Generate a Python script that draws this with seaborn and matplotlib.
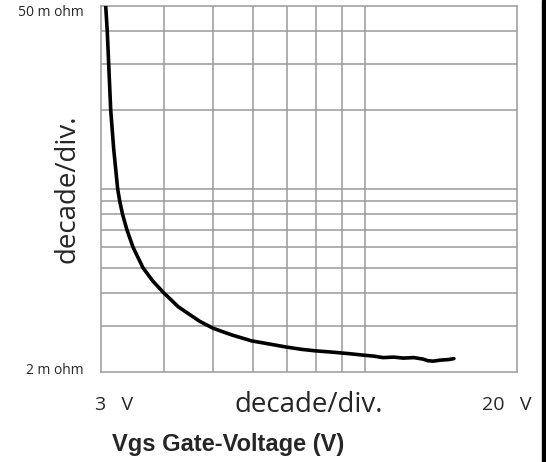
import pandas as pd
import matplotlib.pyplot as plt
import seaborn as sns
from matplotlib.patches import Rectangle

# Rds(on) vs gate voltage
vgs = [3.065, 3.087, 3.107, 3.136, 3.178, 3.237, 3.267, 3.31, 3.375, 3.471,
       3.633, 3.80, 4.0, 4.267, 4.48, 4.71, 5.0, 5.20, 5.45, 5.96, 6.45,
       6.99, 7.5, 7.96, 8.65, 9.3, 9.91, 10.4, 10.86, 11.4, 11.9, 12.5,
       13.03, 13.3, 13.64, 14.1, 14.6, 15.0]
rds = [50.0, 40.0, 30.0, 20.0, 14.3, 10.0, 9.0, 8.0, 7.0, 6.0,
       5.0, 4.45, 4.0, 3.55, 3.33, 3.12, 2.94, 2.86, 2.77, 2.63, 2.56,
       2.49, 2.44, 2.41, 2.38, 2.35, 2.32, 2.30, 2.27, 2.28, 2.26, 2.27,
       2.24, 2.21, 2.20, 2.22, 2.23, 2.25]

x_grid = [4, 5, 6, 7, 8, 9, 10]
y_grid = [3, 4, 5, 6, 7, 8, 9, 10, 20, 30, 40]

df = pd.DataFrame({'vgs': vgs, 'rds': rds})

sns.set_style('white')
plt.rcParams['font.family'] = ['Open Sans', 'DejaVu Sans']

fig = plt.figure(figsize=(5.46, 4.62), dpi=100)
ax = fig.add_axes([101/546, 1-372/462, 416/546, 366/462])

ax.set_xscale('log')
ax.set_yscale('log')
ax.set_xlim(3, 20)
ax.set_ylim(2, 50)

for xv in x_grid:
    ax.axvline(xv, color='#9a9a9a', lw=1.1, zorder=1)
for yv in y_grid:
    ax.axhline(yv, color='#9a9a9a', lw=1.1, zorder=1)

sns.lineplot(data=df, x='vgs', y='rds', color='black', lw=2.6, ax=ax, zorder=3)

ax.set_xticks([])
ax.set_yticks([])
ax.minorticks_off()
ax.tick_params(which='both', length=0, labelleft=False, labelbottom=False)
ax.set_xlabel('')
ax.set_ylabel('')
for s in ax.spines.values():
    s.set_color('#9a9a9a')
    s.set_linewidth(1.1)

def px(x, y):
    return x/546, 1-y/462

fig.text(*px(84, 12), '50 m ohm', fontsize=10, ha='right', va='center')
fig.text(*px(84, 370), '2 m ohm', fontsize=10, ha='right', va='center')
fig.text(*px(67, 189), 'decade/div.', fontsize=20, rotation=90, ha='center', va='center')
fig.text(*px(114, 405), '3   V', fontsize=14, ha='center', va='center')
fig.text(*px(309, 405), 'decade/div.', fontsize=20, ha='center', va='center')
fig.text(*px(507, 405), '20   V', fontsize=14, ha='center', va='center')
fig.text(*px(228, 444), 'Vgs Gate-Voltage (V)', fontsize=17, fontweight='bold',
         family='Liberation Sans', ha='center', va='center')

fig.patches.append(Rectangle((542/546, 0), 4/546, 1, transform=fig.transFigure,
                             color='black', zorder=0))

fig.savefig('out.png', dpi=100)
